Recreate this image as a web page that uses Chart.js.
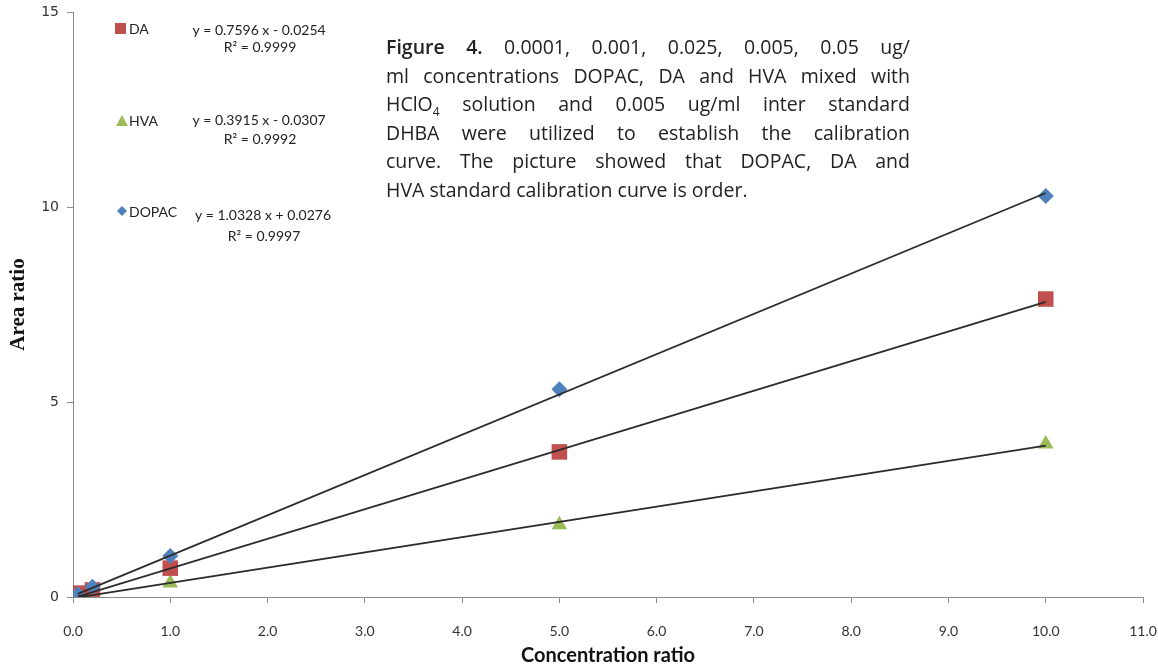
<!DOCTYPE html>
<html>
<head>
<meta charset="utf-8">
<script src="https://cdn.jsdelivr.net/npm/chart.js@4.4.1/dist/chart.umd.min.js"></script>
<style>
  body { margin: 0; background: #fff; }
  #wrap { position: relative; width: 1158px; height: 670px; }
  #caption {
    position: absolute; left: 386px; top: 33px; width: 524px;
    font-family: "Open Sans", "Liberation Sans", sans-serif; font-size: 19.5px;
    line-height: 28.5px; color: #222;
  }
  #caption span { display: block; text-align: justify; text-align-last: justify; white-space: nowrap; }
  #caption span.last { text-align-last: left; }
  #caption b { font-weight: 600; }
  #caption sub { font-size: 12px; vertical-align: -5px; line-height: 0; }
</style>
</head>
<body>
<div id="wrap">
  <canvas id="calib" width="1158" height="670"></canvas>
  <div id="caption">
    <span><b>Figure 4.</b> 0.0001, 0.001, 0.025, 0.005, 0.05 ug/</span>
    <span>ml concentrations DOPAC, DA and HVA mixed with</span>
    <span>HClO<sub>4</sub> solution and 0.005 ug/ml inter standard</span>
    <span>DHBA were utilized to establish the calibration</span>
    <span>curve. The picture showed that DOPAC, DA and</span>
    <span class="last">HVA standard calibration curve is order.</span>
  </div>
</div>
<script>
// concentration ratios (x)
const conc = [0.05, 0.2, 1, 5, 10];
// area ratios
const daVals = [0.1, 0.18, 0.74, 3.72, 7.64];
const hvaVals = [0.0, 0.05, 0.36, 1.85, 3.92];
const dopacVals = [0.07, 0.26, 1.05, 5.33, 10.28];

// trendline end points (x start / end, y start / end)
const fitX = [0.05, 10];
const daFit = [0.01, 7.57];
const hvaFit = [-0.01, 3.88];
const dopacFit = [0.08, 10.36];

const yTicks = [0, 5, 10, 15];

const RED = '#c0504d', GREEN = '#9bbb59', BLUE = '#4f81bd';
const AXIS = '#8c8c8c';
const narrow = 'Lato, "Open Sans", sans-serif';

const pts = (xs, ys) => xs.map((x, i) => ({ x: x, y: ys[i] }));

// legend + equations drawn inside the plot like the excel chart
const notes = {
  id: 'notes',
  afterDraw(chart) {
    const ctx = chart.ctx;
    ctx.save();
    ctx.fillStyle = '#222';
    ctx.textBaseline = 'middle';
    ctx.font = '14px ' + narrow;

    // DA
    ctx.fillStyle = RED;
    ctx.fillRect(115, 23, 11, 11);
    ctx.fillStyle = '#222';
    ctx.textAlign = 'left';
    ctx.fillText('DA', 129, 29);
    ctx.textAlign = 'center';
    ctx.fillText('y = 0.7596 x - 0.0254', 259, 30);
    ctx.fillText('R\u00b2 = 0.9999', 260, 47);

    // HVA
    ctx.fillStyle = GREEN;
    ctx.beginPath();
    ctx.moveTo(122, 115); ctx.lineTo(128, 126); ctx.lineTo(116, 126);
    ctx.closePath(); ctx.fill();
    ctx.fillStyle = '#222';
    ctx.textAlign = 'left';
    ctx.fillText('HVA', 129, 121);
    ctx.textAlign = 'center';
    ctx.fillText('y = 0.3915 x - 0.0307', 259, 120);
    ctx.fillText('R\u00b2 = 0.9992', 260, 139);

    // DOPAC
    ctx.fillStyle = BLUE;
    ctx.beginPath();
    ctx.moveTo(122, 206); ctx.lineTo(127, 211); ctx.lineTo(122, 216); ctx.lineTo(117, 211);
    ctx.closePath(); ctx.fill();
    ctx.fillStyle = '#222';
    ctx.textAlign = 'left';
    ctx.fillText('DOPAC', 129, 212);
    ctx.textAlign = 'center';
    ctx.fillText('y = 1.0328 x + 0.0276', 263, 215);
    ctx.fillText('R\u00b2 = 0.9997', 264, 236);
    ctx.restore();
  }
};

const fitLine = (label, ys) => ({
  type: 'line', label: label, data: pts(fitX, ys), order: 0,
  borderColor: '#2b2b2b', borderWidth: 1.8, pointRadius: 0, fill: false
});

new Chart(document.getElementById('calib'), {
  type: 'scatter',
  data: {
    datasets: [
      fitLine('DOPAC fit', dopacFit),
      fitLine('DA fit', daFit),
      fitLine('HVA fit', hvaFit),
      { label: 'DOPAC', data: pts(conc, dopacVals), order: 1, pointStyle: 'rectRot',
        pointRadius: 8, backgroundColor: BLUE, borderColor: BLUE, borderWidth: 0 },
      { label: 'DA', data: pts(conc, daVals), order: 2, pointStyle: 'rect',
        pointRadius: 11, backgroundColor: RED, borderColor: RED, borderWidth: 0 },
      { label: 'HVA', data: pts(conc, hvaVals), order: 3, pointStyle: 'triangle',
        pointRadius: 9, backgroundColor: GREEN, borderColor: GREEN, borderWidth: 0 }
    ]
  },
  options: {
    responsive: false,
    animation: false,
    layout: { padding: { top: 12, right: 15, left: 0, bottom: 0 } },
    plugins: {
      legend: { display: false },
      tooltip: { enabled: false }
    },
    scales: {
      x: {
        type: 'linear', min: 0, max: 11,
        afterFit: (s) => { s.height = 73; s.paddingLeft = 0; s.paddingRight = 0; },
        border: { color: AXIS, width: 1 },
        grid: { drawOnChartArea: false, color: AXIS, tickLength: 6 },
        ticks: {
          stepSize: 1, padding: 20, color: '#333',
          font: { family: narrow, size: 14 },
          callback: (v) => v.toFixed(1)
        },
        title: {
          display: true, text: 'Concentration ratio', color: '#111',
          font: { family: narrow, size: 20, weight: 'bold' },
          padding: { top: 0, bottom: 2 }
        }
      },
      y: {
        type: 'linear', min: 0, max: 15,
        afterFit: (s) => { s.width = 73; s.paddingTop = 0; s.paddingBottom = 0; },
        afterBuildTicks: (s) => { s.ticks = yTicks.map(v => ({ value: v })); },
        border: { color: AXIS, width: 1 },
        grid: { drawOnChartArea: false, color: AXIS, tickLength: 6 },
        ticks: {
          padding: 8, color: '#333',
          font: { family: '"DejaVu Sans", sans-serif', size: 14 }
        },
        title: {
          display: true, text: 'Area ratio', color: '#111',
          font: { family: '"Liberation Serif", "Times New Roman", serif', size: 21, weight: 'bold' },
          padding: { top: 6, bottom: 0 }
        }
      }
    }
  },
  plugins: [notes]
});
</script>
</body>
</html>
